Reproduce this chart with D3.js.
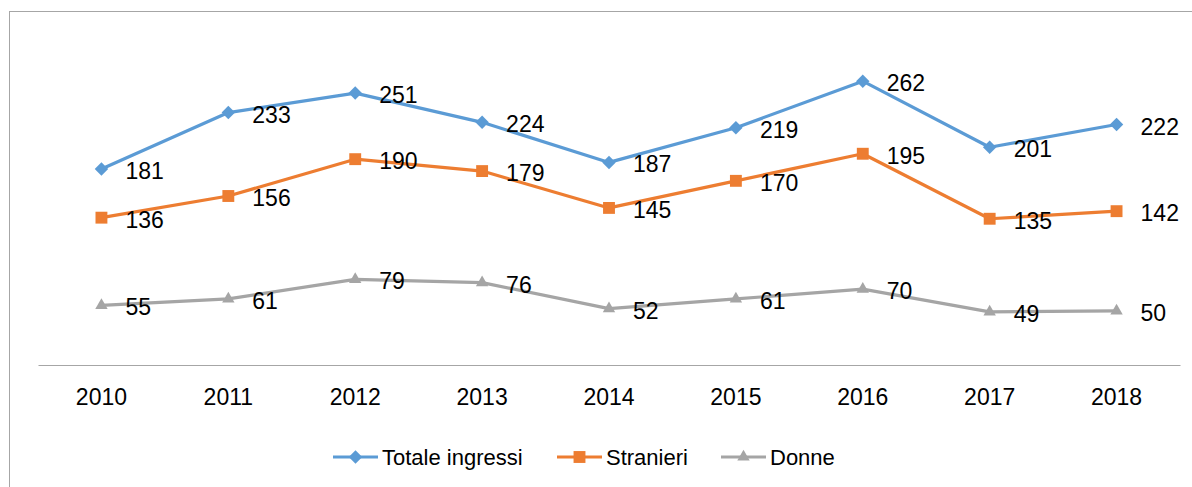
<!DOCTYPE html>
<html>
<head>
<meta charset="utf-8">
<script src="https://cdn.jsdelivr.net/npm/d3@7"></script>
<style>
  body { margin: 0; background: #fff; }
  text { font-family: "Liberation Sans", Arial, sans-serif; fill: #000; }
</style>
</head>
<body>
<svg width="1192" height="487"></svg>
<script>
var years = ["2010", "2011", "2012", "2013", "2014", "2015", "2016", "2017", "2018"];
var totale = [181, 233, 251, 224, 187, 219, 262, 201, 222];
var stranieri = [136, 156, 190, 179, 145, 170, 195, 135, 142];
var donne = [55, 61, 79, 76, 52, 61, 70, 49, 50];
var seriesNames = ["Totale ingressi", "Stranieri", "Donne"];

var svg = d3.select("svg");

// chart frame
svg.append("rect")
  .attr("x", 9.5).attr("y", 11.5)
  .attr("width", 1200).attr("height", 500)
  .attr("fill", "none")
  .attr("stroke", "#a6a6a6")
  .attr("stroke-width", 1);

var x = d3.scaleBand()
  .domain(years)
  .range([38, 1180]);

var y = d3.scaleLinear()
  .domain([0, 300])
  .range([365, 40]);

var series = [
  { name: seriesNames[0], values: totale, color: "#5b9bd5", symbol: d3.symbolDiamond2, size: 115 },
  { name: seriesNames[1], values: stranieri, color: "#ed7d31", symbol: d3.symbolSquare2, size: 180 },
  { name: seriesNames[2], values: donne, color: "#a5a5a5", symbol: d3.symbolTriangle2, size: 110 }
];

function cx(d, i) { return x(years[i]) + x.bandwidth() / 2; }

// x axis
var xAxis = svg.append("g")
  .attr("transform", "translate(0,365)")
  .call(d3.axisBottom(x).tickSize(0).tickPadding(24));
xAxis.select(".domain").attr("stroke", "#a6a6a6").attr("stroke-width", 1.2);
xAxis.selectAll("text")
  .style("font-family", "'Liberation Sans', Arial, sans-serif")
  .style("font-size", "23px")
  .attr("fill", "#000");

var line = d3.line()
  .x(cx)
  .y(function (d) { return y(d); });

series.forEach(function (s) {
  var g = svg.append("g");
  g.append("path")
    .datum(s.values)
    .attr("d", line)
    .attr("fill", "none")
    .attr("stroke", s.color)
    .attr("stroke-width", 3.2)
    .attr("stroke-linejoin", "round");

  g.selectAll(".marker")
    .data(s.values)
    .enter().append("path")
      .attr("class", "marker")
      .attr("transform", function (d, i) { return "translate(" + cx(d, i) + "," + y(d) + ")"; })
      .attr("d", d3.symbol().type(s.symbol).size(s.size))
      .attr("fill", s.color);

  g.selectAll(".lbl")
    .data(s.values)
    .enter().append("text")
      .attr("class", "lbl")
      .attr("x", function (d, i) { return cx(d, i) + 24; })
      .attr("y", function (d) { return y(d) + 2; })
      .attr("dy", "0.35em")
      .attr("font-size", "23px")
      .text(function (d) { return d; });
});

// legend
var legendX = [333, 557, 721];
var legend = svg.selectAll(".legend")
  .data(series)
  .enter().append("g")
    .attr("class", "legend")
    .attr("transform", function (d, i) { return "translate(" + legendX[i] + ",457)"; });

legend.append("line")
  .attr("x1", 0).attr("x2", 45)
  .attr("stroke", function (d) { return d.color; })
  .attr("stroke-width", 3.2);

legend.append("path")
  .attr("transform", "translate(22.5,0)")
  .attr("d", function (d) { return d3.symbol().type(d.symbol).size(d.size)(); })
  .attr("fill", function (d) { return d.color; });

legend.append("text")
  .attr("x", 49)
  .attr("dy", "0.35em")
  .attr("font-size", "22px")
  .text(function (d) { return d.name; });
</script>
</body>
</html>
